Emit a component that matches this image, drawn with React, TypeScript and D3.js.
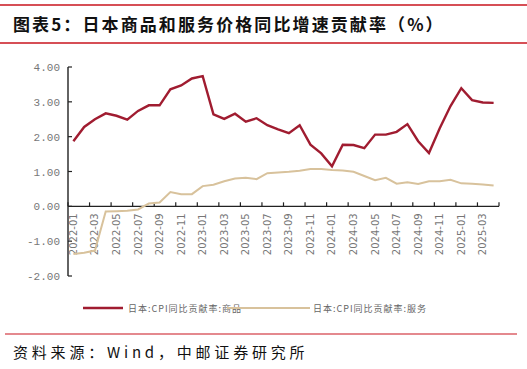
import * as d3 from "d3";

const months: string[] = [];
for (let y = 2022; y <= 2025; y++) {
  for (let m = 1; m <= 12; m++) {
    if (y === 2025 && m > 4) break;
    months.push(`${y}-${String(m).padStart(2, "0")}`);
  }
}

const goods = [
  1.87, 2.28, 2.5, 2.67, 2.6, 2.49, 2.74, 2.9, 2.9, 3.36, 3.47, 3.67, 3.74,
  2.64, 2.51, 2.66, 2.43, 2.53, 2.33, 2.21, 2.1, 2.33, 1.77, 1.52, 1.15, 1.77,
  1.76, 1.67, 2.06, 2.06, 2.14, 2.36, 1.87, 1.53, 2.24, 2.88, 3.39, 3.05, 2.98,
  2.97,
];

const services = [
  -1.37, -1.33, -1.27, -0.15, -0.14, -0.13, -0.09, 0.08, 0.11, 0.41, 0.35, 0.35,
  0.58, 0.62, 0.72, 0.8, 0.82, 0.78, 0.95, 0.97, 0.99, 1.02, 1.07, 1.07, 1.04,
  1.03, 0.99, 0.87, 0.75, 0.82, 0.65, 0.69, 0.64, 0.72, 0.72, 0.76, 0.66, 0.65,
  0.63, 0.6,
];

const yTicks = [-2, -1, 0, 1, 2, 3, 4];

const seriesNames = ["日本:CPI同比贡献率:商品", "日本:CPI同比贡献率:服务"];
const seriesColors = ["#a01c30", "#d8c29c"];

const W = 527;
const H = 369;

const LineChart = () => {
  const x = d3.scaleBand<string>().domain(months).range([68, 499]).padding(0);
  const y = d3.scaleLinear().domain([-2, 4]).range([276, 67]);
  const cx = (i: number) => (x(months[i]) as number) + x.bandwidth() / 2;
  const line = d3
    .line<number>()
    .x((_, i) => cx(i))
    .y((d) => y(d));
  const y0 = y(0);
  const tickIdx = d3.range(0, months.length + 1, 2);

  return (
    <svg width={W} height={H} style={{ display: "block", position: "absolute", left: 0, top: 0 }}>
      <rect width={W} height={H} fill="#fff" />
      {/* title */}
      <line x1={0} x2={W} y1={5} y2={5} stroke="#c9151e" strokeWidth={1.3} />
      <line x1={0} x2={W} y1={43} y2={43} stroke="#c9151e" strokeWidth={1.3} />
      <text
        x={13}
        y={31}
        fontSize={17}
        fontWeight="bold"
        letterSpacing={2.1}
        fontFamily="'Noto Sans CJK SC', sans-serif"
        fill="#111"
      >
        图表5：日本商品和服务价格同比增速贡献率（%）
      </text>

      {/* y axis */}
      <line x1={68} x2={68} y1={y(4)} y2={y(-2)} stroke="#222" strokeWidth={1.4} />
      {yTicks.map((t) => (
        <g key={t}>
          <line x1={68} x2={72} y1={y(t)} y2={y(t)} stroke="#222" strokeWidth={1.2} />
          <text
            x={60}
            y={y(t) + 4}
            textAnchor="end"
            fontSize={11}
            fontFamily="'Liberation Mono', monospace"
            fill="#777"
          >
            {t.toFixed(2)}
          </text>
        </g>
      ))}

      {/* x axis */}
      <line x1={68} x2={499} y1={y0} y2={y0} stroke="#222" strokeWidth={1.4} />
      {tickIdx.map((i) => {
        const px = i < months.length ? (x(months[i]) as number) : 499;
        return <line key={i} x1={px} x2={px} y1={y0} y2={y0 - 4} stroke="#222" strokeWidth={1.2} />;
      })}
      {months.map((m, i) =>
        i % 2 === 0 ? (
          <text
            key={m}
            transform={`translate(${cx(i) + 3.5},${y0 + 7}) rotate(-90)`}
            textAnchor="end"
            fontSize={10}
            fontFamily="'DejaVu Sans', sans-serif"
            fill="#777"
          >
            {m}
          </text>
        ) : null
      )}

      {/* lines */}
      <path d={line(services) ?? ""} fill="none" stroke={seriesColors[1]} strokeWidth={2} />
      <path d={line(goods) ?? ""} fill="none" stroke={seriesColors[0]} strokeWidth={2.4} />

      {/* legend */}
      <line x1={83} x2={123} y1={308} y2={308} stroke={seriesColors[0]} strokeWidth={2.4} />
      <text x={128} y={311.5} fontSize={9} fontFamily="'Noto Sans CJK SC', sans-serif" fill="#666" letterSpacing={1}>
        {seriesNames[0]}
      </text>
      <line x1={227} x2={310} y1={308} y2={308} stroke={seriesColors[1]} strokeWidth={2} />
      <text x={313} y={311.5} fontSize={9} fontFamily="'Noto Sans CJK SC', sans-serif" fill="#666" letterSpacing={1}>
        {seriesNames[1]}
      </text>

      {/* source */}
      <line x1={5} x2={517} y1={334} y2={334} stroke="#c9151e" strokeWidth={1.2} />
      <text x={13} y={358} fontSize={15} fontFamily="'Noto Sans CJK SC', sans-serif" fill="#111" letterSpacing={3.8}>
        资料来源：Wind，中邮证券研究所
      </text>
    </svg>
  );
};

export default function App() {
  return <LineChart />;
}
